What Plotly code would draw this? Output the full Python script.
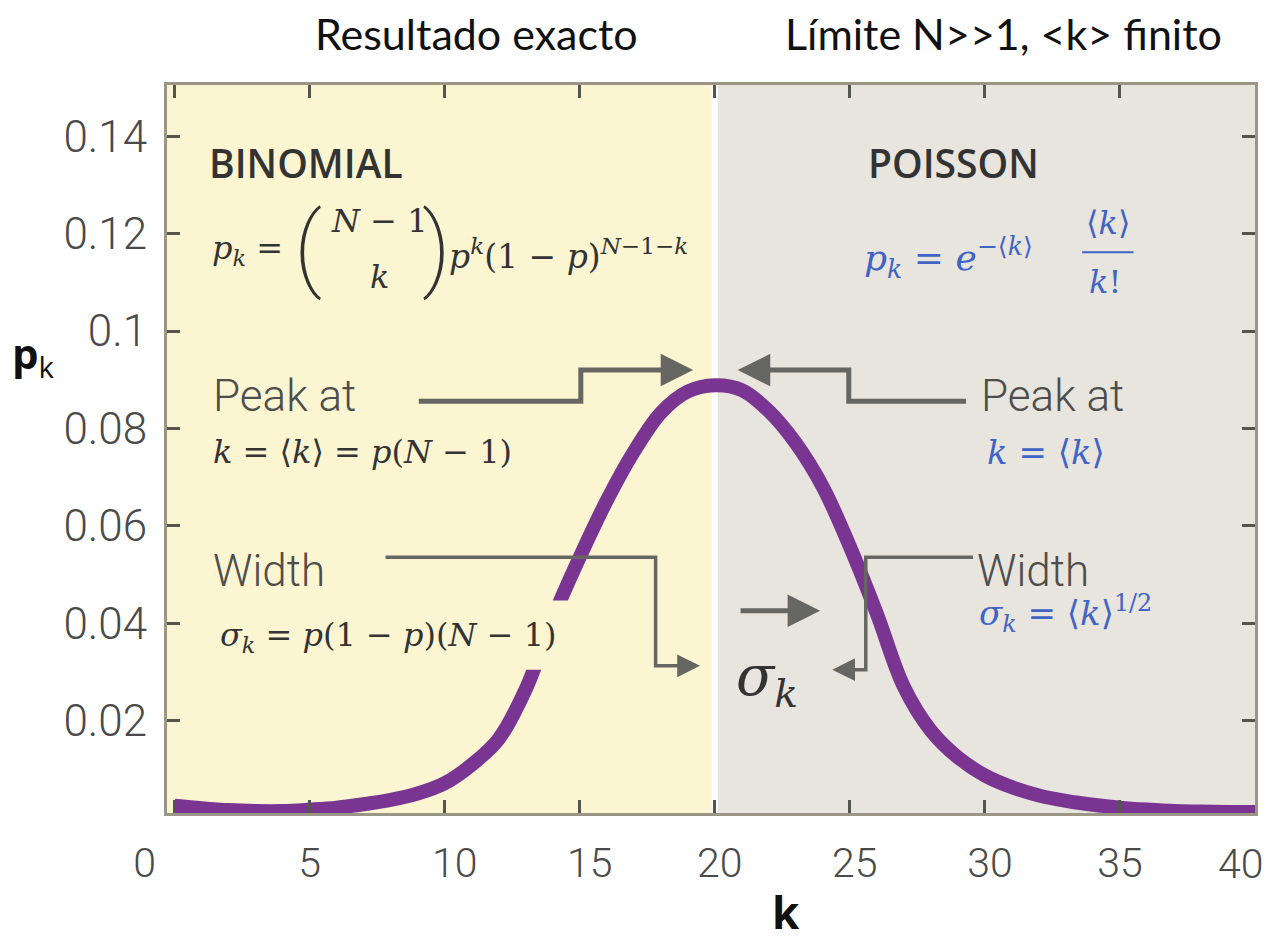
import plotly.graph_objects as go

# Curve (p_k vs k)
k_values = list(range(0, 41))
pk_values = [
    0.0026, 0.0021, 0.0017, 0.0015, 0.0015, 0.0018, 0.0022, 0.0029, 0.0038, 0.0051,
    0.0072, 0.0110, 0.0163, 0.0265, 0.0410, 0.0536, 0.0652, 0.0752, 0.0832, 0.0876,
    0.0889, 0.0879, 0.0836, 0.0770, 0.0680, 0.0558, 0.0420, 0.0270, 0.0180, 0.0125,
    0.0088, 0.0064, 0.0047, 0.0036, 0.0028, 0.0022, 0.0018, 0.0015, 0.0014, 0.0013,
    0.0013,
]
x_ticks = [0, 5, 10, 15, 20, 25, 30, 35, 40]
# labels in the reference sit a little off their ticks; nbsp padding nudges them
# (the last one, "40", is drawn separately since it would run past the page edge)
NB = "\u00a0"
x_tick_labels = ["0" + NB * 6, "5", NB * 2 + "10", NB * 2 + "15", NB + "20", NB + "25",
                 NB + "30", "35", ""]
y_ticks = [0.02, 0.04, 0.06, 0.08, 0.1, 0.12, 0.14]
y_tick_labels = ["0.02", "0.04", "0.06", "0.08", "0.1", "0.12", "0.14"]

X_RANGE = [-0.28, 40]
Y_RANGE = [0.0011, 0.1505]
SPLIT_K = 20

YELLOW = "#FCF5D2"
GREY = "#E8E4DE"
PURPLE = "#7A3492"
ARROW = "#666662"
BLUE = "#3F63C6"
DARK = "#333333"
LABEL = "#4d4d4d"
TICKTEXT = "#4a4a4a"

SERIF = "DejaVu Serif, Liberation Serif, serif"
SANS = "Roboto, Open Sans, sans-serif"

fig = go.Figure()
fig.add_trace(
    go.Scatter(
        x=k_values,
        y=pk_values,
        mode="lines",
        line=dict(color=PURPLE, width=14, shape="spline", smoothing=1.0),
        hoverinfo="skip",
        showlegend=False,
    )
)

shapes = [
    # binomial (left) background
    dict(type="rect", xref="x", yref="y", x0=X_RANGE[0], x1=SPLIT_K, y0=Y_RANGE[0], y1=Y_RANGE[1],
         fillcolor=YELLOW, line_width=0, layer="below"),
    # white split line
    dict(type="line", xref="x", yref="y", x0=SPLIT_K, x1=SPLIT_K, y0=Y_RANGE[0], y1=Y_RANGE[1],
         line=dict(color="white", width=6), layer="below"),
    # gap in the curve behind the sigma formula
    dict(type="rect", xref="x", yref="y", x0=12.9, x1=14.75, y0=0.0305, y1=0.0447,
         fillcolor=YELLOW, line_width=0, layer="above"),
    # peak arrows
    dict(type="path", xref="x", yref="y", path="M 9.04,0.0856 L 15.04,0.0856 L 15.04,0.0920 L 18.6,0.0920",
         line=dict(color=ARROW, width=5), layer="above"),
    dict(type="path", xref="x", yref="y", path="M 29.3,0.0856 L 24.96,0.0856 L 24.96,0.0920 L 21.5,0.0920",
         line=dict(color=ARROW, width=5), layer="above"),
    # width arrows
    dict(type="path", xref="x", yref="y", path="M 7.81,0.0536 L 17.81,0.0536 L 17.81,0.0313 L 18.8,0.0313",
         line=dict(color=ARROW, width=3.5), layer="above"),
    dict(type="path", xref="x", yref="y", path="M 29.56,0.0536 L 25.59,0.0536 L 25.59,0.0305 L 24.8,0.0305",
         line=dict(color=ARROW, width=3.5), layer="above"),
    # fraction bar of the Poisson formula
    dict(type="line", xref="x", yref="y", x0=33.6, x1=35.5, y0=0.1162, y1=0.1162,
         line=dict(color=BLUE, width=2), layer="above"),
]


def arrow_head(x_tail, y_tail, x_head, y_head, width):
    return dict(x=x_head, y=y_head, ax=x_tail, ay=y_tail, xref="x", yref="y", axref="x", ayref="y",
                text="", showarrow=True, arrowhead=2, arrowsize=1.3, arrowwidth=width, arrowcolor=ARROW)


def label(x, y, text, size, color=DARK, family=SERIF, xanchor="left", weight=None):
    font = dict(size=size, color=color, family=family)
    if weight is not None:
        font["weight"] = weight
    return dict(x=x, y=y, xref="x", yref="y", text=text, showarrow=False, xanchor=xanchor,
                yanchor="middle", font=font)


def page_text(px, py, text, size, family, color="#111111", weight=None):
    # position given in page pixels, plot area spans x 167..1255, y 85..813
    font = dict(size=size, color=color, family=family)
    if weight is not None:
        font["weight"] = weight
    return dict(x=(px - 167) / 1088, y=(813 - py) / 728, xref="paper", yref="paper", text=text,
                showarrow=False, xanchor="center", yanchor="middle", font=font)


annotations = [
    arrow_head(18.2, 0.0920, 19.2, 0.0920, 5),
    arrow_head(21.8, 0.0920, 20.85, 0.0920, 5),
    arrow_head(18.6, 0.0313, 19.45, 0.0313, 3.5),
    arrow_head(25.2, 0.0305, 24.35, 0.0305, 3.5),
    arrow_head(20.9, 0.0426, 23.9, 0.0426, 5),
    # panel headings
    label(1.2, 0.1345, "BINOMIAL", 39, color=DARK, family="Open Sans, sans-serif", weight=600),
    label(25.6, 0.1345, "POISSON", 39, color=DARK, family="Open Sans, sans-serif", weight=600),
    # binomial formula
    label(1.3, 0.1166, "<i>p<sub>k</sub></i> =", 32),
    label(4.95, 0.1172, "(", 92, xanchor="center", family=SANS, weight=200),
    label(7.6, 0.1226, "<i>N</i> − 1", 32, xanchor="center"),
    label(7.6, 0.1112, "<i>k</i>", 32, xanchor="center"),
    label(9.7, 0.1172, ")", 92, xanchor="center", family=SANS, weight=200),
    label(10.1, 0.1158, "<i>p<sup>k</sup></i>(1 − <i>p</i>)<sup><i>N</i>−1−<i>k</i></sup>", 33),
    # poisson formula
    label(25.45, 0.1150, "<i>p<sub>k</sub></i> = <i>e</i><sup>−⟨<i>k</i>⟩</sup>", 36, color=BLUE),
    label(34.55, 0.1222, "⟨<i>k</i>⟩", 32, color=BLUE, xanchor="center"),
    label(34.45, 0.1100, "<i>k</i>!", 32, color=BLUE, xanchor="center"),
    # peak
    label(1.35, 0.0866, "Peak at", 44, color=LABEL, family=SANS, weight=300),
    label(1.35, 0.0752, "<i>k</i> = ⟨<i>k</i>⟩ = <i>p</i>(<i>N</i> − 1)", 32),
    label(29.8, 0.0866, "Peak at", 44, color=LABEL, family=SANS, weight=300),
    label(30.0, 0.0752, "<i>k</i> = ⟨<i>k</i>⟩", 34, color=BLUE),
    # width
    label(1.35, 0.0508, "Width", 44, color=LABEL, family=SANS, weight=300),
    label(1.6, 0.0372, "<i>σ<sub>k</sub></i> = <i>p</i>(1 − <i>p</i>)(<i>N</i> − 1)", 32),
    label(29.65, 0.0508, "Width", 44, color=LABEL, family=SANS, weight=300),
    label(29.7, 0.0420, "<i>σ<sub>k</sub></i> = ⟨<i>k</i>⟩<sup>1/2</sup>", 34, color=BLUE),
    label(21.95, 0.0284, "<i>σ<sub>k</sub></i>", 56, xanchor="center"),
    # last x tick label
    page_text(1240, 864, "40", 41, SANS, color=TICKTEXT, weight=300),
    # axis titles
    page_text(33, 355, "<b>p</b><sub>k</sub>", 42, "Open Sans, sans-serif"),
    page_text(786, 912, "<b>k</b>", 44, "Open Sans, sans-serif"),
    # top captions
    page_text(476, 33, "Resultado exacto", 43, "Lato, sans-serif"),
    page_text(1003, 33, "Límite N&gt;&gt;1, &lt;k&gt; finito", 43, "Lato, sans-serif"),
]

axis_common = dict(
    showline=True,
    linecolor="#9A9584",
    linewidth=3,
    mirror="ticks",
    ticks="inside",
    ticklen=13,
    tickwidth=3,
    tickcolor="#55554F",
    showgrid=False,
    zeroline=False,
    automargin=False,
)

# the page adds an 8px body margin, so the figure is drawn 8px smaller
fig.update_layout(
    width=1264,
    height=933,
    margin=dict(l=159, r=17, t=77, b=128),
    paper_bgcolor="white",
    plot_bgcolor=GREY,
    shapes=shapes,
    annotations=annotations,
    xaxis=dict(range=X_RANGE, tickvals=x_ticks, ticktext=x_tick_labels, ticklabelstandoff=12,
               tickfont=dict(size=41, color=TICKTEXT, family=SANS, weight=300), **axis_common),
    yaxis=dict(range=Y_RANGE, tickvals=y_ticks, ticktext=y_tick_labels, ticklabelstandoff=8,
               tickfont=dict(size=44, color=TICKTEXT, family=SANS, weight=300), **axis_common),
    showlegend=False,
)

fig.write_html("out.html")
